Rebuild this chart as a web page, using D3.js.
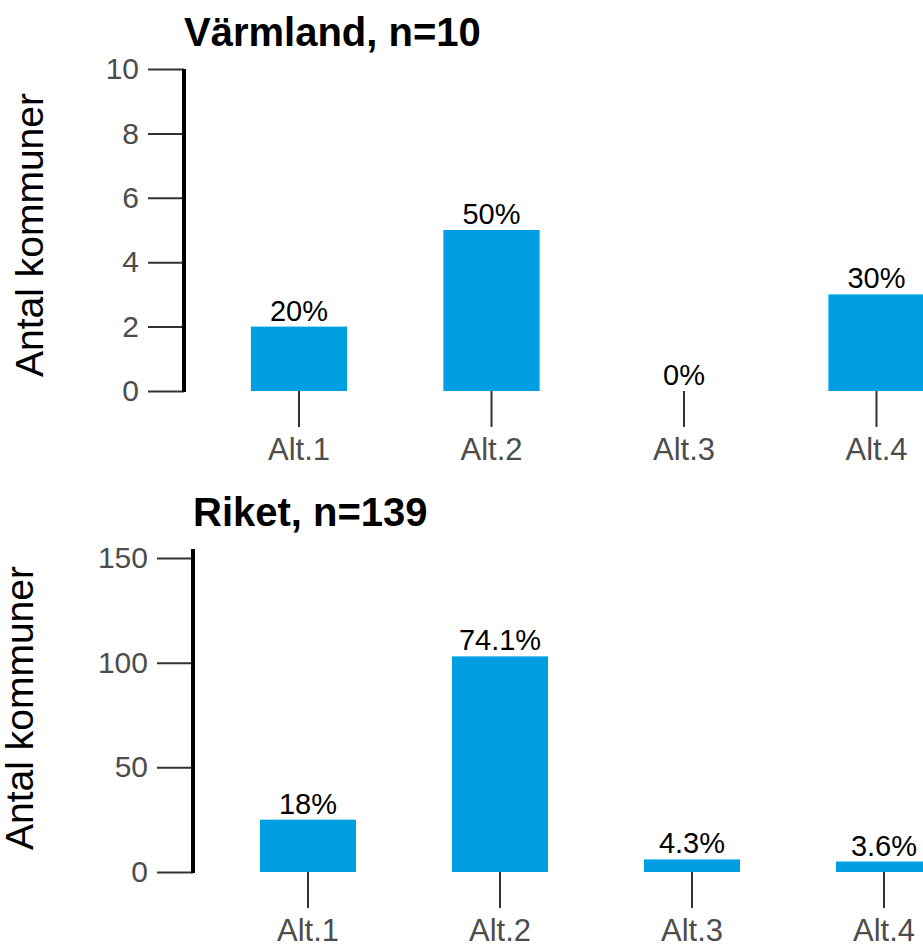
<!DOCTYPE html>
<html>
<head>
<meta charset="utf-8">
<script src="https://cdn.jsdelivr.net/npm/d3@7"></script>
<style>
  html, body { margin: 0; padding: 0; background: #fff; }
  svg { display: block; font-family: "Liberation Sans", Arial, sans-serif; }
</style>
</head>
<body>
<svg id="chart" width="923" height="944"></svg>
<script>
// ---- data ----
const categories = ["Alt.1", "Alt.2", "Alt.3", "Alt.4"];
const varmlandValues = [2, 5, 0, 3];
const varmlandLabels = ["20%", "50%", "0%", "30%"];
const varmlandTicks = [0, 2, 4, 6, 8, 10];
const riketValues = [25, 103, 6, 5];
const riketLabels = ["18%", "74.1%", "4.3%", "3.6%"];
const riketTicks = [0, 50, 100, 150];
const titles = ["Värmland, n=10", "Riket, n=139"];
const yAxisTitle = "Antal kommuner";

// ---- layout ----
const panels = [
  { title: titles[0], values: varmlandValues, labels: varmlandLabels, ticks: varmlandTicks,
    yMax: 10, axisX: 184, yTop: 69, yBottom: 391, xStart: 202.75, xEnd: 972.75,
    titleY: 46, ylabX: 43, ylabY: 235 },
  { title: titles[1], values: riketValues, labels: riketLabels, ticks: riketTicks,
    yMax: 154.3, axisX: 193, yTop: 549, yBottom: 872, xStart: 212, xEnd: 980,
    titleY: 526, ylabX: 33, ylabY: 708 }
];

const svg = d3.select("#chart");
const barColor = "#009FE3";
const gray = "#4D4D4D";
const tickLen = 36;

panels.forEach(p => {
  const g = svg.append("g");
  const x = d3.scaleBand().domain(categories).range([p.xStart, p.xEnd])
    .paddingInner(0.5).paddingOuter(0.25);
  const y = d3.scaleLinear().domain([0, p.yMax]).range([p.yBottom, p.yTop]);

  // bars
  g.selectAll("rect.bar").data(categories).enter().append("rect")
    .attr("class", "bar")
    .attr("x", d => x(d))
    .attr("width", x.bandwidth())
    .attr("y", (d, i) => y(p.values[i]))
    .attr("height", (d, i) => y(0) - y(p.values[i]))
    .attr("fill", barColor);

  // value labels
  g.selectAll("text.val").data(categories).enter().append("text")
    .attr("class", "val")
    .attr("x", d => x(d) + x.bandwidth() / 2)
    .attr("y", (d, i) => y(p.values[i]) - 6)
    .attr("text-anchor", "middle")
    .attr("font-size", 29)
    .attr("fill", "#000")
    .text((d, i) => p.labels[i]);

  // y axis
  const yAxis = d3.axisLeft(y).tickValues(p.ticks).tickSize(tickLen).tickPadding(9)
    .tickFormat(d3.format("d"));
  const ga = g.append("g").attr("transform", `translate(${p.axisX},0)`).call(yAxis);
  ga.select(".domain").remove();
  ga.selectAll(".tick line").attr("stroke", "#333").attr("stroke-width", 2);
  ga.selectAll(".tick text").attr("font-size", 30).attr("fill", gray)
    .attr("font-family", "Liberation Sans, Arial, sans-serif");
  g.append("line")
    .attr("x1", p.axisX).attr("x2", p.axisX)
    .attr("y1", y(p.yMax)).attr("y2", y(0) + 1)
    .attr("stroke", "#000").attr("stroke-width", 4);

  // x axis
  const xAxis = d3.axisBottom(x).tickSize(tickLen).tickPadding(11);
  const gx = g.append("g").attr("transform", `translate(0,${y(0)})`).call(xAxis);
  gx.select(".domain").remove();
  gx.selectAll(".tick line").attr("stroke", "#333").attr("stroke-width", 2);
  gx.selectAll(".tick text").attr("font-size", 31).attr("fill", gray)
    .attr("font-family", "Liberation Sans, Arial, sans-serif");

  // title
  g.append("text")
    .attr("x", p.axisX).attr("y", p.titleY)
    .attr("font-size", 40).attr("font-weight", "bold").attr("fill", "#000")
    .text(p.title);

  // y axis title
  g.append("text")
    .attr("transform", `translate(${p.ylabX},${p.ylabY}) rotate(-90)`)
    .attr("text-anchor", "middle")
    .attr("font-size", 39).attr("fill", "#000")
    .text(yAxisTitle);
});
</script>
</body>
</html>
